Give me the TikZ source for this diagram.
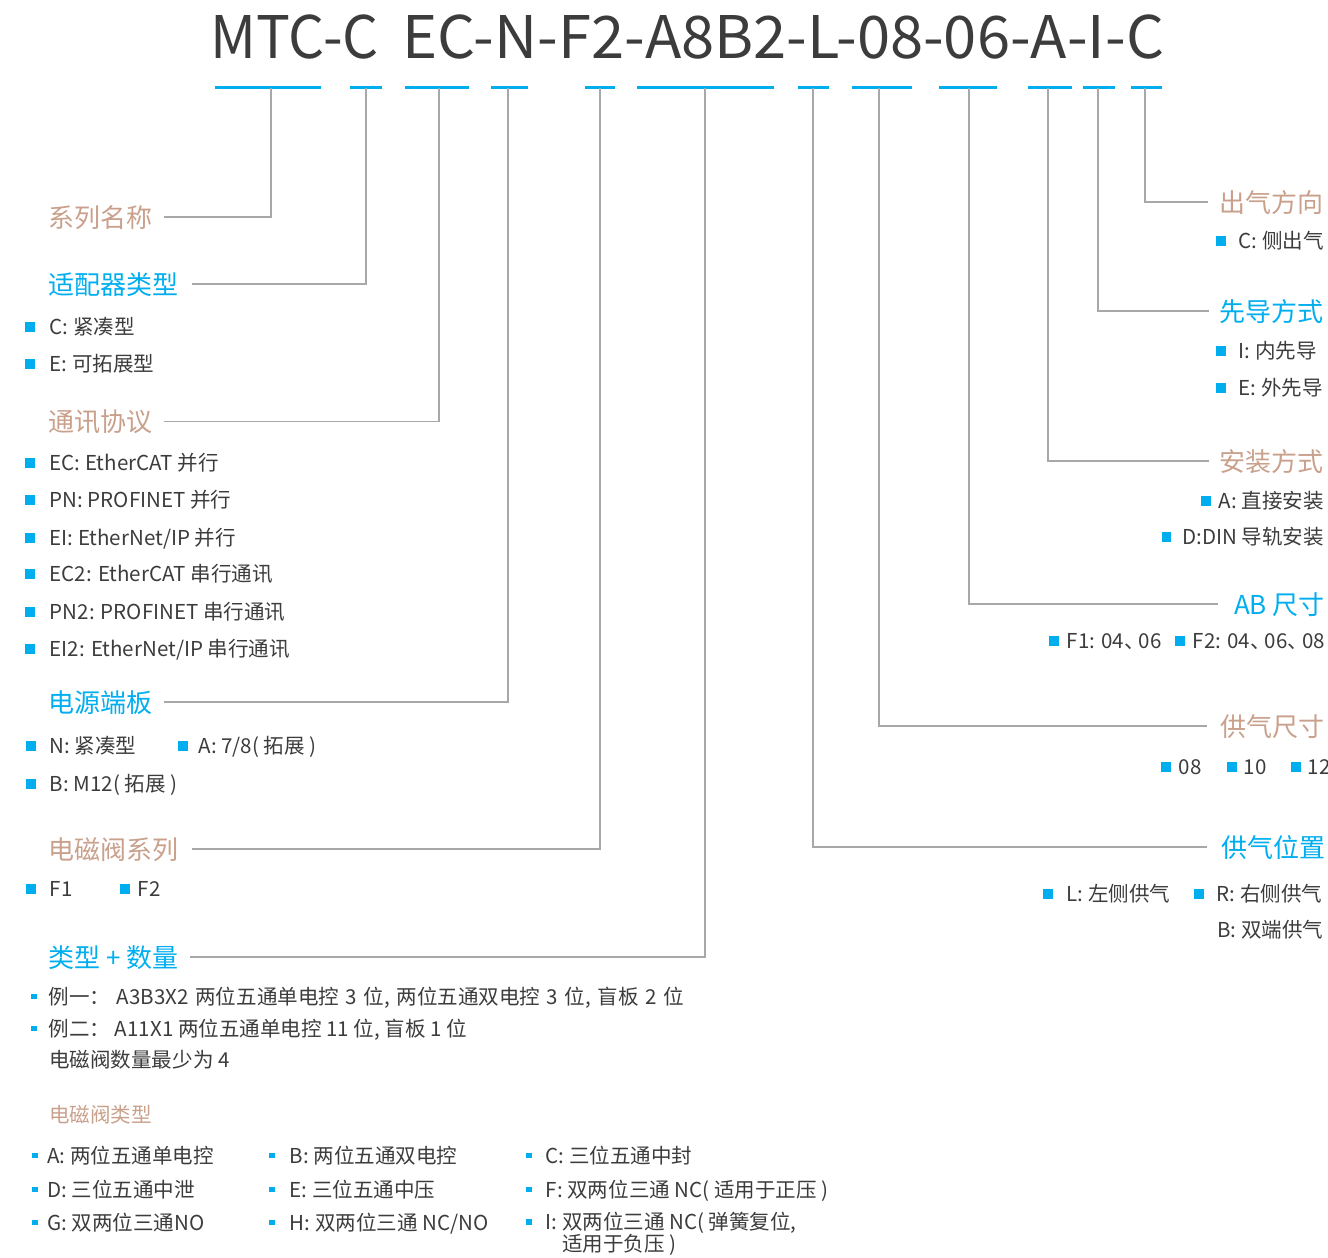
\documentclass[tikz,border=0pt]{standalone}
\usepackage{fontspec}
\setmainfont{Noto Sans CJK SC}
\usetikzlibrary{positioning}
\definecolor{codeCyan}{HTML}{00AEEF}
\definecolor{headTan}{HTML}{C9A08B}
\definecolor{txtGray}{HTML}{3C3C3C}
\definecolor{lineGray}{HTML}{A8A8A8}
\newlength\px
\setlength\px{0.75pt}
\newcommand\sqbul[1][15]{{\color{codeCyan}\rule[2.5\px]{9.5\px}{9.5\px}}\hspace{#1\px}}
\newcommand\dotbul[1][12]{{\color{codeCyan}\rule[5\px]{5.5\px}{5.5\px}}\hspace{#1\px}}
\newcommand\dunhao{\makebox[0.72em][l]{、}}

\begin{document}
\begin{tikzpicture}[x=0.75pt,y=-0.75pt,every node/.style={inner sep=0pt,text=txtGray}]
  \tikzset{head/.style={font=\fontsize{19.5pt}{23pt}\selectfont,anchor=base west},
    headR/.style={head,anchor=base east},
    item/.style={font=\fontsize{15.4pt}{16pt}\selectfont,anchor=base west},
    itemR/.style={item,anchor=base east},
    codefont/.style={font=\fontsize{44pt}{50pt}\selectfont,anchor=base west},
    uline/.style={codeCyan,line width=3\px},
    lead/.style={lineGray,line width=1.5\px}}
  \useasboundingbox (0,0) rectangle (1328,1257);
  % model code
  \node[codefont] (codeSeries) at (210,58) {\scalebox{0.965}[1]{MTC-C}};
  \node[codefont] (codeRest) at (402,58) {\scalebox{1.017}[1]{EC-N-F2-A8B2-L-08-06-A-I-C}};
  \foreach \a/\b/\m/\n in {215/321/271/uMTC,350/382/366/uAd,405/469/439/uComm,491/528/508/uPow,
      585/615/600/uSer,637/774/705/uType,798/829/813/uPos,852/912/879/uSize,939/997/969/uAB,
      1028/1072/1048/uMount,1083/1115/1098/uPilot,1131/1162/1145/uOut}{
    \draw[uline] (\a,87) -- (\b,87);
    \coordinate (\n) at (\m,88);
  }
  % left column
  \node[head,text=headTan] (hSeries) at (48,227) {系列名称};
  \node[head,text=codeCyan] (hAdapter) at (48,294) {适配器类型};
  \node[item] (iAdC) at (25,334) {\sqbul C: 紧凑型};
  \node[item] (iAdE) at (25,371) {\sqbul E: 可拓展型};
  \node[head,text=headTan] (hComm) at (48,431) {通讯协议};
  \node[item] (iEC) at (25,470) {\sqbul EC: EtherCAT 并行};
  \node[item] (iPN) at (25,507) {\sqbul PN: PROFINET 并行};
  \node[item] (iEI) at (25,545) {\sqbul EI: EtherNet/IP 并行};
  \node[item] (iEC2) at (25,581) {\sqbul EC2: EtherCAT 串行通讯};
  \node[item] (iPN2) at (25,619) {\sqbul PN2: PROFINET 串行通讯};
  \node[item] (iEI2) at (25,656) {\sqbul EI2: EtherNet/IP 串行通讯};
  \node[head,text=codeCyan] (hPower) at (48,712) {电源端板};
  \node[item] (iPowN) at (26,753) {\sqbul[14]N: 紧凑型};
  \node[item] (iPowA) at (178,753) {\sqbul[11]A: 7/8( 拓展 )};
  \node[item] (iPowB) at (26,791) {\sqbul[14]B: M12( 拓展 )};
  \node[head,text=headTan] (hSeries2) at (48,859) {电磁阀系列};
  \node[item] (iF1) at (26,896) {\sqbul[14]F1};
  \node[item] (iF2) at (120,896) {\sqbul[8]F2};
  \node[head,text=codeCyan] (hType) at (48,967) {类型 + 数量};
  \node[item] (iEx1) at (31,1004)
    {\spaceskip=0.32em\dotbul 例一： A3B3X2 两位五通单电控 3 位, 两位五通双电控 3 位, 盲板 2 位};
  \node[item] (iEx2) at (31,1036) {\dotbul 例二： A11X1 两位五通单电控 11 位, 盲板 1 位};
  \node[item] (iMin) at (49,1067) {电磁阀数量最少为 4};
  % valve types
  \node[item,text=headTan] (hValve) at (49,1122) {电磁阀类型};
  \node[item] (vA) at (32,1163) {\dotbul[9.5]A: 两位五通单电控};
  \node[item] (vB) at (269,1163) {\dotbul[15]B: 两位五通双电控};
  \node[item] (vC) at (526,1163) {\dotbul[14]C: 三位五通中封};
  \node[item] (vD) at (32,1197) {\dotbul[9.5]D: 三位五通中泄};
  \node[item] (vE) at (269,1197) {\dotbul[15]E: 三位五通中压};
  \node[item] (vF) at (526,1197) {\dotbul[14]F: 双两位三通 NC( 适用于正压 )};
  \node[item] (vG) at (32,1230) {\dotbul[9.5]G: 双两位三通NO};
  \node[item] (vH) at (269,1230) {\dotbul[15]H: 双两位三通 NC/NO};
  \node[item,align=left,font=\fontsize{15.4pt}{16pt}\selectfont] (vI) at (526,1251)
    {\dotbul[14]I: 双两位三通 NC( 弹簧复位,\\\phantom{\dotbul[14]I: }适用于负压 )};
  % right column
  \node[headR,text=headTan] (hOut) at (1324,212) {出气方向};
  \node[item] (iOutC) at (1216,248) {\sqbul[13]C: 侧出气};
  \node[headR,text=codeCyan] (hPilot) at (1324,321) {先导方式};
  \node[item] (iPilI) at (1216,358) {\sqbul[13]I: 内先导};
  \node[item] (iPilE) at (1216,395) {\sqbul[13]E: 外先导};
  \node[headR,text=headTan] (hMount) at (1324,471) {安装方式};
  \node[itemR] (iMntA) at (1324,508) {\sqbul[8]A: 直接安装};
  \node[itemR] (iMntD) at (1324,544) {\sqbul[11]D:DIN 导轨安装};
  \node[headR,text=codeCyan] (hAB) at (1325,614) {AB 尺寸};
  \node[item] (iABF1) at (1049,648) {\sqbul[8]F1: 04\dunhao 06};
  \node[item] (iABF2) at (1175,648) {\sqbul[8]F2: 04\dunhao 06\dunhao 08};
  \node[headR,text=headTan] (hSize) at (1325,736) {供气尺寸};
  \node[item] (iSz08) at (1161,774) {\sqbul[8]08};
  \node[item] (iSz10) at (1227,774) {\sqbul[7]10};
  \node[item] (iSz12) at (1291,774) {\sqbul[7]12};
  \node[headR,text=codeCyan] (hPos) at (1326,857) {供气位置};
  \node[item] (iPosL) at (1043,901) {\sqbul[14]L: 左侧供气};
  \node[item] (iPosR) at (1194,901) {\sqbul[13]R: 右侧供气};
  \node[item] (iPosB) at (1217,937) {B: 双端供气};
  % leader lines
  \draw[lead] (uMTC) |- ([xshift=11\px]hSeries.east);
  \draw[lead] (uAd) |- ([xshift=13\px]hAdapter.east);
  \draw[lead] (uComm) |- ([xshift=11\px]hComm.east);
  \draw[lead] (uPow) |- ([xshift=11\px]hPower.east);
  \draw[lead] (uSer) |- ([xshift=13\px]hSeries2.east);
  \draw[lead] (uType) |- ([xshift=11\px]hType.east);
  \draw[lead] (uPos) |- ([xshift=-14\px]hPos.west);
  \draw[lead] (uSize) |- ([xshift=-13\px]hSize.west);
  \draw[lead] (uAB) |- ([xshift=-16\px]hAB.west);
  \draw[lead] (uMount) |- ([xshift=-10\px]hMount.west);
  \draw[lead] (uPilot) |- ([xshift=-10\px]hPilot.west);
  \draw[lead] (uOut) |- ([xshift=-11\px]hOut.west);
\end{tikzpicture}
\end{document}
